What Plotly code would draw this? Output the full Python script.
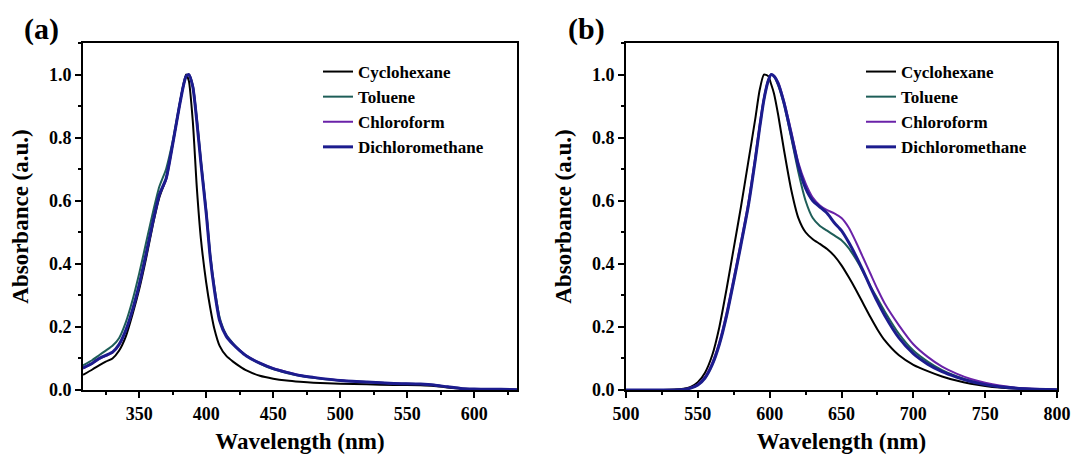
import plotly.graph_objects as go

# ---------------- Panel (a) data ----------------
wl_a = [308, 315, 320, 325, 330, 335, 340, 345, 350, 355, 360, 365, 370, 375, 380, 383, 385, 387,
        390, 393, 396, 400, 403, 406, 410, 415, 420, 425, 430, 440, 450, 460, 470, 480, 500, 520,
        540, 560, 570, 580, 590, 600, 610, 620, 632]
cyclohexane_a = [0.048, 0.065, 0.078, 0.090, 0.100, 0.125, 0.170, 0.240, 0.320, 0.415, 0.520, 0.610,
                 0.670, 0.780, 0.900, 0.970, 1.000, 0.980, 0.850, 0.640, 0.480, 0.340, 0.260, 0.195,
                 0.140, 0.108, 0.090, 0.075, 0.062, 0.045, 0.036, 0.030, 0.026, 0.023, 0.020, 0.018,
                 0.016, 0.015, 0.013, 0.008, 0.004, 0.003, 0.002, 0.002, 0.001]
toluene_a = [0.078, 0.095, 0.110, 0.125, 0.140, 0.165, 0.215, 0.285, 0.370, 0.465, 0.560, 0.645,
             0.700, 0.790, 0.905, 0.965, 0.995, 1.000, 0.965, 0.860, 0.730, 0.570, 0.430, 0.330,
             0.230, 0.175, 0.148, 0.126, 0.108, 0.084, 0.066, 0.054, 0.045, 0.039, 0.030, 0.025,
             0.021, 0.019, 0.016, 0.010, 0.005, 0.003, 0.002, 0.002, 0.001]
chloroform_a = [0.068, 0.084, 0.098, 0.108, 0.118, 0.142, 0.188, 0.252, 0.332, 0.428, 0.528, 0.618,
                0.665, 0.780, 0.900, 0.965, 0.995, 1.000, 0.962, 0.852, 0.722, 0.562, 0.422, 0.322,
                0.222, 0.172, 0.146, 0.126, 0.109, 0.086, 0.069, 0.057, 0.047, 0.040, 0.031, 0.025,
                0.021, 0.019, 0.016, 0.010, 0.005, 0.003, 0.002, 0.002, 0.001]
dichloromethane_a = [0.070, 0.085, 0.100, 0.110, 0.120, 0.145, 0.190, 0.255, 0.335, 0.430, 0.530,
                     0.620, 0.670, 0.780, 0.900, 0.965, 0.995, 1.000, 0.960, 0.850, 0.720, 0.560,
                     0.420, 0.320, 0.220, 0.170, 0.145, 0.125, 0.108, 0.085, 0.068, 0.056, 0.046,
                     0.040, 0.030, 0.025, 0.021, 0.019, 0.016, 0.010, 0.005, 0.003, 0.002, 0.002,
                     0.001]

# ---------------- Panel (b) data ----------------
wl_b = [500, 520, 530, 540, 545, 550, 555, 560, 565, 570, 575, 580, 585, 590, 593, 596, 599, 601,
        603, 606, 610, 615, 620, 625, 630, 635, 640, 645, 650, 655, 660, 665, 670, 675, 680, 690,
        700, 710, 720, 730, 740, 750, 760, 770, 780, 800]
cyclohexane_b = [0.000, 0.000, 0.001, 0.004, 0.010, 0.025, 0.055, 0.110, 0.200, 0.320, 0.450, 0.580,
                 0.720, 0.860, 0.950, 1.000, 0.995, 0.970, 0.940, 0.870, 0.760, 0.635, 0.545, 0.500,
                 0.478, 0.463, 0.447, 0.425, 0.395, 0.358, 0.318, 0.275, 0.232, 0.192, 0.158, 0.110,
                 0.080, 0.060, 0.043, 0.030, 0.020, 0.013, 0.008, 0.005, 0.003, 0.001]
toluene_b = [0.000, 0.000, 0.000, 0.002, 0.006, 0.016, 0.038, 0.080, 0.145, 0.235, 0.345, 0.460,
             0.580, 0.730, 0.830, 0.920, 0.980, 1.000, 0.995, 0.965, 0.905, 0.800, 0.690, 0.600,
             0.545, 0.520, 0.505, 0.490, 0.475, 0.450, 0.415, 0.375, 0.330, 0.290, 0.250, 0.178,
             0.125, 0.090, 0.063, 0.044, 0.029, 0.019, 0.012, 0.007, 0.004, 0.001]
chloroform_b = [0.000, 0.000, 0.000, 0.002, 0.007, 0.018, 0.042, 0.086, 0.152, 0.245, 0.355, 0.470,
                0.590, 0.740, 0.840, 0.925, 0.982, 1.000, 0.995, 0.975, 0.915, 0.820, 0.720, 0.655,
                0.610, 0.585, 0.570, 0.560, 0.545, 0.515, 0.470, 0.420, 0.370, 0.320, 0.275, 0.205,
                0.145, 0.105, 0.074, 0.052, 0.035, 0.023, 0.014, 0.008, 0.005, 0.001]
dichloromethane_b = [0.000, 0.000, 0.000, 0.002, 0.006, 0.016, 0.038, 0.080, 0.145, 0.235, 0.345,
                     0.460, 0.580, 0.730, 0.830, 0.920, 0.980, 1.000, 0.995, 0.970, 0.910, 0.810,
                     0.710, 0.640, 0.600, 0.580, 0.560, 0.530, 0.505, 0.468, 0.425, 0.378, 0.328,
                     0.280, 0.237, 0.165, 0.115, 0.082, 0.058, 0.041, 0.027, 0.017, 0.010, 0.006,
                     0.003, 0.001]

names = ["Cyclohexane", "Toluene", "Chloroform", "Dichloromethane"]
colors = ["#000000", "#1e5e58", "#6a22a8", "#1c1c8e"]
widths = [2, 2, 2, 3]

FONT = "Liberation Serif"

fig = go.Figure()
series_a = [cyclohexane_a, toluene_a, chloroform_a, dichloromethane_a]
series_b = [cyclohexane_b, toluene_b, chloroform_b, dichloromethane_b]
for n, c, w, ya in zip(names, colors, widths, series_a):
    fig.add_trace(go.Scatter(x=wl_a, y=ya, name=n, mode="lines",
                             line=dict(color=c, width=w, shape="spline", smoothing=0.6),
                             xaxis="x", yaxis="y", legend="legend"))
for n, c, w, yb in zip(names, colors, widths, series_b):
    fig.add_trace(go.Scatter(x=wl_b, y=yb, name=n, mode="lines",
                             line=dict(color=c, width=w, shape="spline", smoothing=0.6),
                             xaxis="x2", yaxis="y2", legend="legend2"))

W, H = 1074, 459
ytop = 1 - 43 / H
ybot = 1 - 390 / H
tickfont = dict(family=FONT, size=18, color="black", weight="bold")
titlefont = dict(family=FONT, size=23, color="black", weight="bold")

def xax(dom, rng, anchor):
    return dict(domain=dom, range=rng, anchor=anchor, automargin=False, showline=True, linewidth=2,
                linecolor="black", mirror=True, ticks="outside", ticklen=6, tickwidth=2,
                tickcolor="black", dtick=50, tick0=300, showgrid=False, zeroline=False,
                tickfont=tickfont,
                minor=dict(ticks="outside", ticklen=3, tickwidth=1.5, tickcolor="black", dtick=25),
                title=dict(text="Wavelength (nm)", font=titlefont, standoff=10))

def yax(anchor):
    return dict(domain=[ybot, ytop], range=[0, 1.1], anchor=anchor, automargin=False, showline=True,
                linewidth=2, linecolor="black", mirror=True, ticks="outside", ticklen=6,
                tickwidth=2, tickcolor="black", dtick=0.2, tick0=0, tickformat=".1f",
                showgrid=False, zeroline=False, tickfont=tickfont,
                minor=dict(ticks="outside", ticklen=3, tickwidth=1.5, tickcolor="black", dtick=0.1),
                title=dict(text="Absorbance (a.u.)", font=titlefont, standoff=14))

legfont = dict(family=FONT, size=17, color="black", weight="bold")
fig.update_layout(
    width=W, height=H, margin=dict(l=0, r=0, t=0, b=0),
    paper_bgcolor="white", plot_bgcolor="white",
    xaxis=xax([83 / W, 517 / W], [308, 632], "y"),
    yaxis=yax("x"),
    xaxis2=xax([626 / W, 1057 / W], [500, 800], "y2"),
    yaxis2=yax("x2"),
    legend=dict(x=318 / W, y=1 - 54 / H, xanchor="left", yanchor="top", bgcolor="rgba(0,0,0,0)",
                font=legfont, tracegroupgap=0, itemwidth=30),
    legend2=dict(x=861 / W, y=1 - 54 / H, xanchor="left", yanchor="top", bgcolor="rgba(0,0,0,0)",
                 font=legfont, tracegroupgap=0, itemwidth=30),
    annotations=[
        dict(text="(a)", x=22 / W, y=1 - 29 / H, xref="paper", yref="paper", xanchor="left",
             yanchor="middle", showarrow=False,
             font=dict(family=FONT, size=30, color="black", weight="bold")),
        dict(text="(b)", x=566 / W, y=1 - 29 / H, xref="paper", yref="paper", xanchor="left",
             yanchor="middle", showarrow=False,
             font=dict(family=FONT, size=30, color="black", weight="bold")),
    ],
)

fig.write_html("out.html")
